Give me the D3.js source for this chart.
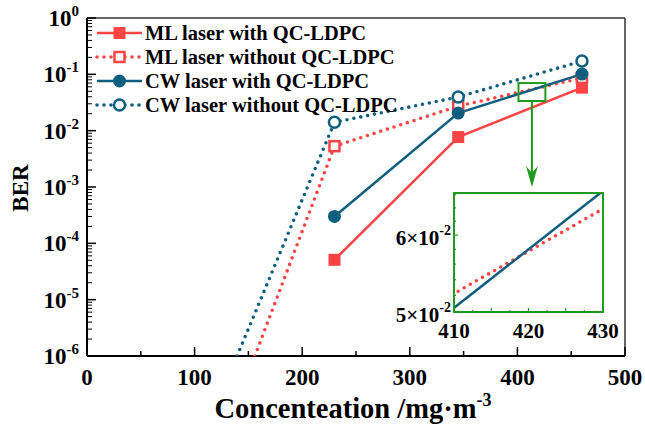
<!DOCTYPE html>
<html><head><meta charset="utf-8">
<script src="https://cdn.jsdelivr.net/npm/d3@7"></script>
<style>body{margin:0;background:#fff}svg{display:block}text{font-family:"Liberation Serif","Times New Roman",serif;font-weight:bold}</style>
</head><body>
<svg id="c" width="645" height="426"></svg>
<script>
const conc = [230, 345, 460];
const mlWith = [5.1e-5, 7.7e-3, 0.058];
const mlWithoutX = [156, 230, 345, 460];
const mlWithout = [1e-6, 5.3e-3, 0.0272, 0.0863];
const cwWith = [3.0e-4, 0.0205, 0.101];
const cwWithoutX = [139.5, 230, 345, 460];
const cwWithout = [1e-6, 0.0141, 0.0395, 0.172];
const xTicks = [0, 100, 200, 300, 400, 500];
const yExps = [0, -1, -2, -3, -4, -5, -6];
const legendLabels = ["ML laser with QC-LDPC", "ML laser without QC-LDPC", "CW laser with QC-LDPC", "CW laser without QC-LDPC"];
const insetX = [410, 420, 430];
const insetYTicks = [0.05, 0.06];
const zoomBoxX = [401, 426], zoomBoxY = [0.0336, 0.07];
const insetXDomain = [410, 430], insetYDomain = [0.05, 0.0663];

const RED = "#fb4545", BLUE = "#0e5f7f", GREEN = "#1f9a1f";
const svg = d3.select("#c");
const L = 87, R = 625, T = 18, B = 356;
const x = d3.scaleLinear().domain([0, 500]).range([L, R]);
const y = d3.scaleLog().domain([1e-6, 1]).range([B, T]);

svg.append("defs").append("clipPath").attr("id", "clip")
  .append("rect").attr("x", L).attr("y", T).attr("width", R - L).attr("height", B - T);

// frame top/right
svg.append("line").attr("x1", L).attr("x2", R).attr("y1", T).attr("y2", T).attr("stroke", "#333").attr("stroke-width", 1.5);
svg.append("line").attr("x1", R).attr("x2", R).attr("y1", T).attr("y2", B).attr("stroke", "#333").attr("stroke-width", 1.5);

// x axis
const xg = svg.append("g");
xg.append("line").attr("x1", L).attr("x2", R).attr("y1", B).attr("y2", B).attr("stroke", "#000").attr("stroke-width", 2);
d3.range(0, 501, 50).forEach(v => {
  const major = v % 100 === 0;
  xg.append("line").attr("x1", x(v)).attr("x2", x(v)).attr("y1", B).attr("y2", B - (major ? 9 : 5)).attr("stroke", "#000").attr("stroke-width", 1.5);
});
xTicks.forEach(v => {
  xg.append("text").attr("x", x(v)).attr("y", B + 29).attr("text-anchor", "middle").attr("font-size", 23).text(v);
});

// y axis
const yg = svg.append("g");
yg.append("line").attr("x1", L).attr("x2", L).attr("y1", T).attr("y2", B).attr("stroke", "#000").attr("stroke-width", 2);
for (let e = -6; e < 0; e++) {
  for (let m = 2; m <= 9; m++) {
    const v = m * Math.pow(10, e);
    yg.append("line").attr("x1", L).attr("x2", L + 5).attr("y1", y(v)).attr("y2", y(v)).attr("stroke", "#000").attr("stroke-width", 1);
  }
}
yExps.forEach(e => {
  const v = Math.pow(10, e);
  yg.append("line").attr("x1", L).attr("x2", L + 9).attr("y1", y(v)).attr("y2", y(v)).attr("stroke", "#000").attr("stroke-width", 1.5);
  const t = yg.append("text").attr("x", 79).attr("y", y(v) + 8).attr("text-anchor", "end").attr("font-size", 23);
  t.append("tspan").text("10");
  t.append("tspan").attr("dy", -10).attr("font-size", 15).text(e === 0 ? "0" : "-" + Math.abs(e));
});

// titles
const xt = svg.append("text").attr("x", 353).attr("y", 418).attr("text-anchor", "middle").attr("font-size", 28.5);
xt.append("tspan").text("Concenteation /mg·m");
xt.append("tspan").attr("dy", -12).attr("font-size", 18).text("-3");
svg.append("text").attr("transform", "translate(28,188) rotate(-90)").attr("text-anchor", "middle").attr("font-size", 23).text("BER");

// series
const plot = svg.append("g").attr("clip-path", "url(#clip)");
const line = d3.line().x(d => x(d[0])).y(d => y(d[1]));
const series = [
  {xs: conc, ys: mlWith, color: RED, dotted: false, marker: "square", fill: true},
  {xs: mlWithoutX, ys: mlWithout, color: RED, dotted: true, marker: "square", fill: false},
  {xs: conc, ys: cwWith, color: BLUE, dotted: false, marker: "circle", fill: true},
  {xs: cwWithoutX, ys: cwWithout, color: BLUE, dotted: true, marker: "circle", fill: false}
];
function drawMarker(g, cx, cy, s) {
  if (s.marker === "square") {
    const sz = s.fill ? 12 : 10;
    g.append("rect").attr("x", cx - sz / 2).attr("y", cy - sz / 2).attr("width", sz).attr("height", sz)
      .attr("fill", s.fill ? s.color : "#fff").attr("stroke", s.color).attr("stroke-width", s.fill ? 0 : 2.5);
  } else {
    g.append("circle").attr("cx", cx).attr("cy", cy).attr("r", s.fill ? 6.5 : 5.5)
      .attr("fill", s.fill ? s.color : "#fff").attr("stroke", s.color).attr("stroke-width", s.fill ? 0 : 2.5);
  }
}
function styleLine(p, s) {
  p.attr("fill", "none").attr("stroke", s.color);
  if (s.dotted) p.attr("stroke-width", 3.6).attr("stroke-dasharray", "0,7").attr("stroke-linecap", "round");
  else p.attr("stroke-width", 2.5);
}
series.forEach(s => {
  const pts = s.xs.map((v, i) => [v, s.ys[i]]);
  styleLine(plot.append("path").attr("d", line(pts)), s);
});
series.forEach(s => {
  s.xs.forEach((v, i) => { if (conc.includes(v)) drawMarker(svg, x(v), y(s.ys[i]), s); });
});

// legend
const legendY = [33, 57, 81, 105];
legendLabels.forEach((lab, i) => {
  const s = series[i];
  const ly = legendY[i];
  styleLine(svg.append("path").attr("d", `M97,${ly}L142,${ly}`), s);
  drawMarker(svg, 119.5, ly, s);
  svg.append("text").attr("x", 145).attr("y", ly + 7).attr("font-size", 20.5).text(lab);
});

// zoom box & arrow
const bx0 = x(zoomBoxX[0]), bx1 = x(zoomBoxX[1]), by0 = y(zoomBoxY[1]), by1 = y(zoomBoxY[0]);
svg.append("rect").attr("x", bx0).attr("y", by0).attr("width", bx1 - bx0).attr("height", by1 - by0)
  .attr("fill", "none").attr("stroke", GREEN).attr("stroke-width", 2);
const ax = (bx0 + bx1) / 2;
svg.append("line").attr("x1", ax).attr("x2", ax).attr("y1", by1).attr("y2", 175).attr("stroke", GREEN).attr("stroke-width", 2);
svg.append("path").attr("d", `M${ax - 6},166L${ax},187L${ax + 6},166L${ax},173Z`).attr("fill", GREEN);

// inset
const IL = 454, IR = 603, IT = 193, IB = 312;
const ix = d3.scaleLinear().domain(insetXDomain).range([IL, IR]);
const iy = d3.scaleLog().domain(insetYDomain).range([IB, IT]);
svg.append("rect").attr("x", IL).attr("y", IT).attr("width", IR - IL).attr("height", IB - IT).attr("fill", "#fff");
svg.append("defs").append("clipPath").attr("id", "iclip")
  .append("rect").attr("x", IL).attr("y", IT).attr("width", IR - IL).attr("height", IB - IT);
const ig = svg.append("g").attr("clip-path", "url(#iclip)");
const iline = d3.line().x(d => ix(d[0])).y(d => iy(d[1]));
[series[1], series[2]].forEach(s => {
  const pts = s.xs.map((v, i) => [v, s.ys[i]]);
  styleLine(ig.append("path").attr("d", iline(pts)), s);
});
[412.5, 415, 417.5, 420, 422.5, 425, 427.5].forEach((v, i) => {
  svg.append("line").attr("x1", ix(v)).attr("x2", ix(v)).attr("y1", IB).attr("y2", IB - (i % 2 ? 4 : 2)).attr("stroke", GREEN).attr("stroke-width", 1.2);
});
[0.052, 0.054, 0.056, 0.058, 0.06, 0.062, 0.064, 0.066].forEach(v => {
  svg.append("line").attr("x1", IL).attr("x2", IL + (v === 0.06 ? 4 : 2)).attr("y1", iy(v)).attr("y2", iy(v)).attr("stroke", GREEN).attr("stroke-width", 1.2);
});
svg.append("rect").attr("x", IL).attr("y", IT).attr("width", IR - IL).attr("height", IB - IT)
  .attr("fill", "none").attr("stroke", GREEN).attr("stroke-width", 2);
insetX.forEach(v => {
  svg.append("text").attr("x", ix(v)).attr("y", IB + 26).attr("text-anchor", "middle").attr("font-size", 21).text(v);
});
insetYTicks.forEach(v => {
  const t = svg.append("text").attr("x", IL - 3).attr("y", iy(v) + 10).attr("text-anchor", "end").attr("font-size", 21);
  t.append("tspan").text(Math.round(v * 100) + "×10");
  t.append("tspan").attr("dy", -10).attr("font-size", 14).text("-2");
});
</script>
</body></html>
